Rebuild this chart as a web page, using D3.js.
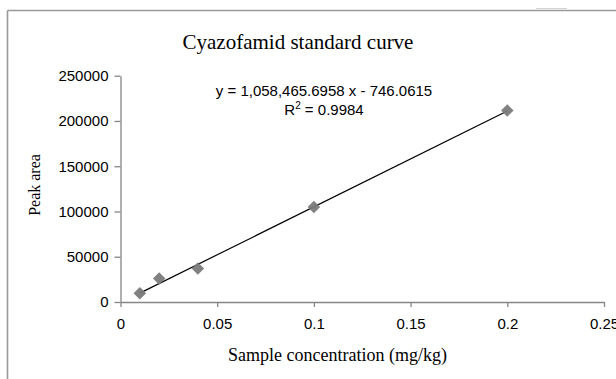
<!DOCTYPE html>
<html>
<head>
<meta charset="utf-8">
<script src="https://cdn.jsdelivr.net/npm/d3@7"></script>
<style>
  html, body { margin: 0; padding: 0; background: #fff; }
  svg { display: block; }
  .tick text { font-family: "Liberation Sans", Arial, sans-serif; font-size: 15px; fill: #000; }
  .domain, .tick line { stroke: #868686; stroke-width: 1.3; }
</style>
</head>
<body>
<svg id="chart" width="616" height="379"></svg>
<script>
// Calibration points: concentration (mg/kg) vs. measured peak area
const concentrations = [0.01, 0.02, 0.04, 0.1, 0.2];
const peakAreas = [9600, 26000, 37000, 105000, 211500];

// Linear fit reported for the calibration
const slope = 1058465.6958;
const intercept = -746.0615;
const rSquared = 0.9984;

const xTicks = [0, 0.05, 0.1, 0.15, 0.2, 0.25];
const yTicks = [0, 50000, 100000, 150000, 200000, 250000];

const svg = d3.select("#chart");

// Outer frame (top and left edges visible)
svg.append("line").attr("x1", 7.5).attr("x2", 616).attr("y1", 10.5).attr("y2", 10.5)
  .attr("stroke", "#9a9a9a").attr("stroke-width", 1.6);
svg.append("line").attr("x1", 7.5).attr("x2", 7.5).attr("y1", 10.5).attr("y2", 379)
  .attr("stroke", "#9a9a9a").attr("stroke-width", 1.6);
svg.append("line").attr("x1", 536).attr("x2", 567).attr("y1", 8.5).attr("y2", 8.5)
  .attr("stroke", "#d4d4d4").attr("stroke-width", 1);

const x = d3.scaleLinear().domain([0, 0.25]).range([120.5, 604]);
const y = d3.scaleLinear().domain([0, 250000]).range([302, 75.7]);

// Axes
svg.append("g")
  .attr("transform", "translate(0,302)")
  .call(d3.axisBottom(x).tickValues(xTicks).tickFormat(d => String(d))
    .tickSize(5).tickSizeOuter(0).tickPadding(11));

svg.append("g")
  .attr("transform", "translate(120.5,0)")
  .call(d3.axisLeft(y).tickValues(yTicks).tickFormat(d3.format("d"))
    .tickSize(6).tickSizeOuter(0).tickPadding(6));

// Trendline across the calibrated range
const fit = v => slope * v + intercept;
const xMin = d3.min(concentrations), xMax = d3.max(concentrations);
svg.append("line")
  .attr("x1", x(xMin)).attr("y1", y(fit(xMin)))
  .attr("x2", x(xMax)).attr("y2", y(fit(xMax)))
  .attr("stroke", "#000").attr("stroke-width", 1.2);

// Diamond markers
const diamond = d3.symbol().type(d3.symbolDiamond2).size(100);
svg.append("g").selectAll("path")
  .data(concentrations.map((c, i) => [c, peakAreas[i]]))
  .join("path")
  .attr("d", diamond)
  .attr("transform", d => `translate(${x(d[0])},${y(d[1])}) rotate(0)`)
  .attr("fill", "#7a7a7a")
  .attr("fill-opacity", 0.95);

// Equation and R² labels
const eqX = 324;
svg.append("text")
  .attr("x", eqX).attr("y", 96)
  .attr("text-anchor", "middle")
  .style("font-family", "Liberation Sans, Arial, sans-serif")
  .style("font-size", "15px")
  .text(`y = ${d3.format(",.4f")(slope)} x - ${Math.abs(intercept).toFixed(4)}`);

const r2 = svg.append("text")
  .attr("x", eqX).attr("y", 115)
  .attr("text-anchor", "middle")
  .style("font-family", "Liberation Sans, Arial, sans-serif")
  .style("font-size", "15px");
r2.append("tspan").text("R");
r2.append("tspan").attr("dy", -6).style("font-size", "10px").text("2");
r2.append("tspan").attr("dy", 6).text(` = ${rSquared}`);

// Titles
svg.append("text")
  .attr("x", 298).attr("y", 49)
  .attr("text-anchor", "middle")
  .style("font-family", "Liberation Serif, 'Times New Roman', serif")
  .style("font-size", "21px")
  .text("Cyazofamid standard curve");

svg.append("text")
  .attr("x", 337.5).attr("y", 361)
  .attr("text-anchor", "middle")
  .style("font-family", "Liberation Serif, 'Times New Roman', serif")
  .style("font-size", "18px")
  .text("Sample concentration (mg/kg)");

svg.append("text")
  .attr("transform", "translate(40,185) rotate(-90)")
  .attr("text-anchor", "middle")
  .style("font-family", "Liberation Serif, 'Times New Roman', serif")
  .style("font-size", "16px")
  .text("Peak area");
</script>
</body>
</html>
